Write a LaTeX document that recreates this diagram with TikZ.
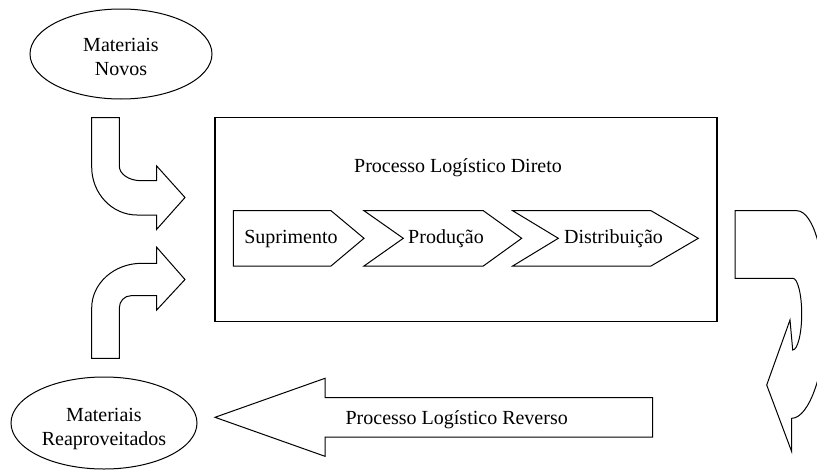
\documentclass[tikz,border=0pt]{standalone}
\usepackage{fontspec}
\setmainfont{Liberation Serif}
\usetikzlibrary{shapes.geometric}

\begin{document}
\begin{tikzpicture}[x=1pt, y=-1pt, line width=1pt, line join=miter,
    every node/.style={font=\fontsize{20}{23.5}\selectfont},
    blob/.style={ellipse, draw, inner sep=0pt}]
  \useasboundingbox (0,0) rectangle (817,469);
  \clip (0,0) rectangle (817,469);
  % material sources
  \node[blob, minimum width=182, minimum height=90] (novos) at (121,54) {};
  \node[align=center] (novos_txt) at (121,57) {Materiais\\Novos};
  \node[blob, minimum width=186, minimum height=92] (reaprov) at (104,423) {};
  \node[align=center] (reaprov_txt) at (104,429) {Materiais\\Reaproveitados};
  % direct logistic process
  \node[draw, line width=1.3pt, minimum width=502, minimum height=204, inner sep=0pt] (direto) at (466,219.7) {};
  \node (direto_txt) at (458,168) {Processo Logístico Direto};
  % chevrons: left, notch, shoulder, tip
  \foreach \l/\n/\s/\t in {233.3/233.3/331/364, 364/403.3/483.3/521.7, 512.7/558.3/651/698.3} {
    \draw (\l,210.7) -- (\s,210.7) -- (\t,238.3) -- (\s,266) -- (\l,266) -- (\n,238.3) -- cycle;
  }
  \node[anchor=base] (suprimento) at (291,243.5) {Suprimento};
  \node[anchor=base] (producao) at (446,243.5) {Produção};
  \node[anchor=base] (distribuicao) at (613.5,243.5) {Distribuição};
  % bent arrow from new materials
  \draw (91.7,117.7) -- (119.3,117.7) -- (119.3,166)
    .. controls (119.3,174.1) and (129,180.7) .. (141,180.7)
    -- (156.7,180.7) -- (156.7,166) -- (185,197.5) -- (156.7,229.3) -- (156.7,215) -- (137,215)
    .. controls (112,215) and (91.7,193.5) .. (91.7,167) -- cycle;
  % bent arrow from reused materials
  \draw (91.7,358.3) -- (91.7,308)
    .. controls (91.7,283.3) and (114.1,263.3) .. (141.7,263.3)
    -- (156.7,263.3) -- (156.7,247.3) -- (185,279.5) -- (156.7,310) -- (156.7,295.7) -- (131,295.7)
    .. controls (124.5,295.7) and (119.3,301.2) .. (119.3,308) -- (119.3,358.3) -- cycle;
  % curved arrow on the right (cut by the page)
  \draw (735,210.7) -- (796.7,210.7)
    .. controls (814,210.7) and (826,257) .. (826,314.5)
    .. controls (826,372) and (809,418.3) .. (791.7,418.3)
    -- (791.7,451.7) -- (766.7,385) -- (790,320) -- (792.7,350)
    .. controls (797.5,350) and (801.7,334) .. (801.7,314)
    .. controls (801.7,294) and (797.5,278.3) .. (793,278.3)
    -- (735,278.3) -- cycle;
  % reverse logistic process
  \draw (652.7,397.7) -- (325,397.7) -- (325,378.3) -- (215,417.3) -- (325,456.3) -- (325,437) -- (652.7,437) -- cycle;
  \node[anchor=base] (reverso_txt) at (456.7,424) {Processo Logístico Reverso};
\end{tikzpicture}
\end{document}
